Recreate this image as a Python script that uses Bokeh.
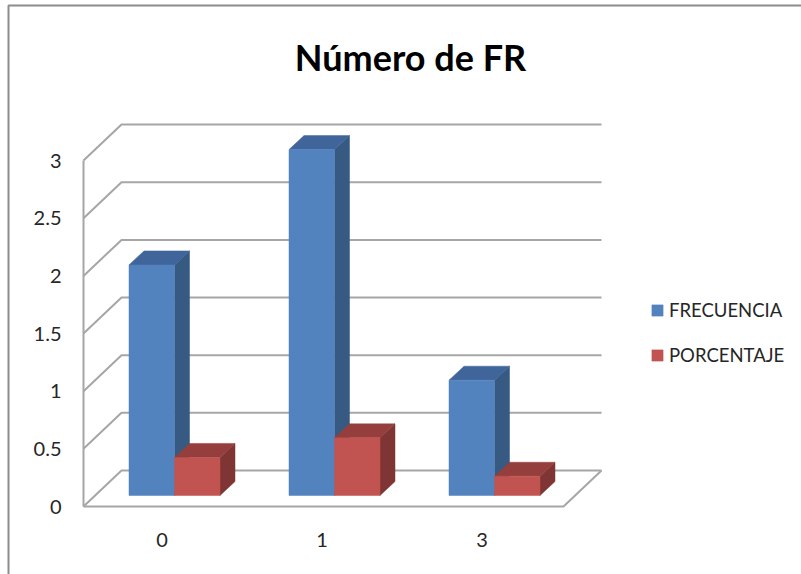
from bokeh.core.properties import value
from bokeh.embed import file_html
from bokeh.models import ColumnDataSource, Label, Legend, LegendItem, Range1d
from bokeh.plotting import figure
from bokeh.resources import INLINE

# Chart data
categories = ["0", "1", "3"]
frecuencia = [2, 3, 1]
porcentaje = [0.33, 0.5, 0.167]
y_ticks = [0, 0.5, 1, 1.5, 2, 2.5, 3]
y_tick_labels = ["0", "0.5", "1", "1.5", "2", "2.5", "3"]
title_text = "Número de FR"

W, H = 801, 574
UNIT_X = 160.0        # pixels per category
UNIT_Y = 115.3        # pixels per value unit
ORIGIN_X = 174.0      # pixel of the first category's centre
ORIGIN_Y = 495.0      # pixel of the bars' baseline

p = figure(width=W, height=H, output_backend="svg", toolbar_location=None,
           min_border=0, outline_line_color=None, background_fill_color="white",
           x_range=Range1d(-ORIGIN_X / UNIT_X, (W - ORIGIN_X) / UNIT_X),
           y_range=Range1d((ORIGIN_Y - H) / UNIT_Y, ORIGIN_Y / UNIT_Y),
           x_axis_location=None, y_axis_location=None)
p.xgrid.visible = False
p.ygrid.visible = False

BAR_W = 45.5 / UNIT_X
DX, DY = 15.0 / UNIT_X, 14.0 / UNIT_Y          # depth of a bar
xs = list(range(len(categories)))

# Floor and wall geometry, relative to the bar plane
LEFT_FRONT = (83 - ORIGIN_X) / UNIT_X
LEFT_BACK = (121 - ORIGIN_X) / UNIT_X
RIGHT_FRONT = (563 - ORIGIN_X) / UNIT_X
RIGHT_BACK = (601 - ORIGIN_X) / UNIT_X
FRONT_DY = -11.0 / UNIT_Y
BACK_DY = 25.0 / UNIT_Y

GRID = "#a6a6a6"
for t in y_ticks:
    p.line([LEFT_FRONT, LEFT_BACK, RIGHT_BACK],
           [t + FRONT_DY, t + BACK_DY, t + BACK_DY], line_color=GRID, line_width=2)
p.line([LEFT_FRONT, LEFT_FRONT], [FRONT_DY, y_ticks[-1] + FRONT_DY],
       line_color=GRID, line_width=2)
p.line([LEFT_FRONT, RIGHT_FRONT, RIGHT_BACK], [FRONT_DY, FRONT_DY, BACK_DY],
       line_color=GRID, line_width=2)


def draw_series(values, offset, front, top, side):
    """Draw a 3D column series: side and top faces, then the front face."""
    lefts = [x + offset for x in xs]
    rights = [x + offset + BAR_W for x in xs]
    p.patches([[r, r + DX, r + DX, r] for r in rights],
              [[0, DY, v + DY, v] for v in values],
              fill_color=side, line_color=side, line_width=0.5)
    p.patches([[l, l + DX, r + DX, r] for l, r in zip(lefts, rights)],
              [[v, v + DY, v + DY, v] for v in values],
              fill_color=top, line_color=top, line_width=0.5)
    src = ColumnDataSource(dict(left=lefts, right=rights, top=values, bottom=[0] * len(values)))
    return p.quad(left="left", right="right", top="top", bottom="bottom", source=src,
                  fill_color=front, line_color=front, line_width=0.5)


blue = draw_series(frecuencia, -BAR_W, "#5383bf", "#40659a", "#375a82")
red = draw_series(porcentaje, 0, "#c15451", "#943f3d", "#7f3533")

# Tick labels
FONT = "Lato"
p.text([LEFT_FRONT - 22 / UNIT_X] * len(y_ticks), [t + FRONT_DY for t in y_ticks],
       text=y_tick_labels, text_align="right", text_baseline="middle",
       text_font=value(FONT), text_font_size="20px", text_color="#262626")
p.text([x - 12.5 / UNIT_X for x in xs], [(ORIGIN_Y - 539) / UNIT_Y] * len(xs),
       text=categories, text_align="center", text_baseline="middle",
       text_font=value(FONT), text_font_size="20px", text_color="#262626")

# Title
p.add_layout(Label(x=(410 - ORIGIN_X) / UNIT_X, y=(ORIGIN_Y - 56) / UNIT_Y, text=title_text,
                   text_align="center", text_baseline="middle", text_font=FONT,
                   text_font_style="bold", text_font_size="36px", text_color="black"))

# Chart frame: top and left edges only
p.line([8 / UNIT_X - ORIGIN_X / UNIT_X] * 2 + [(W - ORIGIN_X) / UNIT_X],
       [(ORIGIN_Y - H) / UNIT_Y, (ORIGIN_Y - 5) / UNIT_Y, (ORIGIN_Y - 5) / UNIT_Y],
       line_color="#8c8c8c", line_width=2)

legend = Legend(items=[LegendItem(label="FRECUENCIA", renderers=[blue]),
                       LegendItem(label="PORCENTAJE", renderers=[red])],
                location=(650, H - 366), orientation="vertical",
                background_fill_alpha=0, border_line_color=None,
                glyph_width=14, glyph_height=14, label_standoff=5, spacing=23,
                padding=0, margin=0, label_text_font=FONT,
                label_text_font_size="18.5px", label_text_color="#262626")
p.add_layout(legend)

open("out.html", "w").write(file_html(p, INLINE))
